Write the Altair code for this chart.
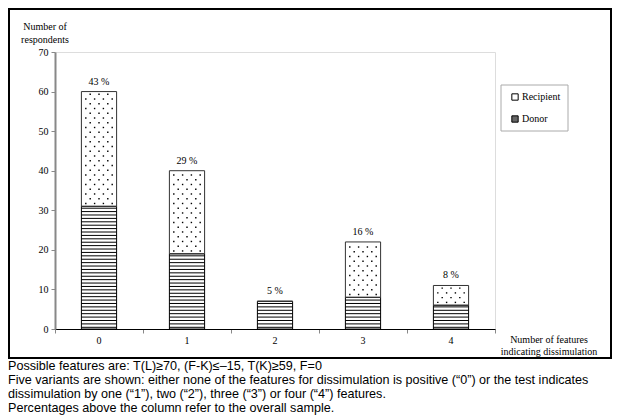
import altair as alt
import pandas as pd

categories = [0, 1, 2, 3, 4]
donor = [31, 19, 7, 8, 6]
recipient = [29, 21, 0, 14, 5]
percent = [43, 29, 5, 16, 8]
series_names = ["Recipient", "Donor"]
footnotes = [
    "Possible features are: T(L)\u226570, (F-K)\u2264\u201315, T(K)\u226559, F=0",
    "Five variants are shown: either none of the features for dissimulation is positive (\u201c0\u201d) or the test indicates",
    "dissimulation by one (\u201c1\u201d), two (\u201c2\u201d), three (\u201c3\u201d) or four (\u201c4\u201d) features.",
    "Percentages above the column refer to the overall sample.",
]

HALF = 0.2          # half bar width in category units
STRIPE = 0.86       # stripe spacing (value units)
DOTROW = 1.2        # dot row spacing (value units)
SERIF = "Liberation Serif"
SANS = "Liberation Sans"

bars = pd.DataFrame({
    "cat": categories,
    "donor": donor,
    "total": [d + r for d, r in zip(donor, recipient)],
    "label": [f"{p} %" for p in percent],
})
bars["x0"] = bars["cat"] - HALF
bars["x1"] = bars["cat"] + HALF

# stripe pattern rows for Donor segment
srows = []
for c, d in zip(categories, donor):
    v = STRIPE / 2
    while v < d:
        srows.append({"x0": c - HALF, "x1": c + HALF, "y": v})
        v += STRIPE
stripes = pd.DataFrame(srows)

# dotted pattern for Recipient segment
drows = []
for c, d, r in zip(categories, donor, recipient):
    v = d + DOTROW * 0.6
    k = 0
    while v < d + r - 0.4:
        offs = [-0.15, -0.05, 0.05, 0.15] if k % 2 == 0 else [-0.10, 0.0, 0.10]
        for o in offs:
            drows.append({"x": c + o, "y": v})
        v += DOTROW
        k += 1
dots = pd.DataFrame(drows)

xs = alt.Scale(domain=[-0.5, 4.5], nice=False, zero=False)
ys = alt.Scale(domain=[0, 70], nice=False)

xaxis = alt.Axis(values=[-0.5, 0.5, 1.5, 2.5, 3.5, 4.5], labels=False, tickSize=4,
                 tickColor="#888", domainColor="black", title=None, grid=False)
yaxis = alt.Axis(values=list(range(0, 71, 10)), tickSize=4, tickColor="#888",
                 domainColor="#888", domainWidth=2, labelFont=SERIF, labelFontSize=10,
                 labelColor="black", labelPadding=3, labelOverlap=False,
                 title=None, grid=False)


def X(f):
    return alt.X(f, scale=xs, axis=xaxis)


def Y(f):
    return alt.Y(f, scale=ys, axis=yaxis)


base = alt.Chart(bars)

white = base.mark_rect(fill="white").encode(
    x=X("x0:Q"), x2="x1:Q", y=Y("total:Q"), y2=alt.datum(0),
)

stripe_layer = alt.Chart(stripes).mark_rule(color="black", strokeWidth=1).encode(
    x=X("x0:Q"), x2="x1:Q", y=Y("y:Q")
)

dot_layer = alt.Chart(dots).mark_square(size=2, color="black", opacity=1).encode(
    x=X("x:Q"), y=Y("y:Q")
)

donor_outline = base.mark_rect(fillOpacity=0, stroke="black", strokeWidth=1).encode(
    x=X("x0:Q"), x2="x1:Q", y=Y("donor:Q"), y2=alt.datum(0)
)
total_outline = base.mark_rect(fillOpacity=0, stroke="#333", strokeWidth=1).encode(
    x=X("x0:Q"), x2="x1:Q", y=Y("total:Q"), y2="donor:Q"
)

pct = base.mark_text(font=SERIF, fontSize=10, dy=-10, color="black").encode(
    x=X("cat:Q"), y=Y("total:Q"), text="label:N"
)

xlabels = base.mark_text(font=SERIF, fontSize=10, color="black", baseline="middle").encode(
    x=X("cat:Q"), y=alt.value(289), text="cat:N"
)

one = pd.DataFrame({"a": [0]})

outer = alt.Chart(one).mark_rect(fillOpacity=0, stroke="black", strokeWidth=2).encode(
    x=alt.value(-46), x2=alt.value(556), y=alt.value(-43), y2=alt.value(306)
)

ytitle = alt.Chart(pd.DataFrame({"t": ["Number of", "respondents"], "yy": [-25, -12]})).mark_text(
    font=SERIF, fontSize=10, color="black", baseline="middle", align="center"
).encode(x=alt.value(-10), y=alt.Y("yy:Q", scale=None), text="t:N")

xtitle = alt.Chart(pd.DataFrame({"t": ["Number of features", "indicating dissimulation"], "yy": [288, 300]})).mark_text(
    font=SERIF, fontSize=10, color="black", baseline="middle", align="center"
).encode(x=alt.value(494), y=alt.Y("yy:Q", scale=None), text="t:N")

foot = alt.Chart(pd.DataFrame({"t": footnotes, "yy": [314, 328, 342, 356]})).mark_text(
    font=SANS, fontSize=12.6, color="black", baseline="middle", align="left"
).encode(x=alt.value(-47), y=alt.Y("yy:Q", scale=None), text="t:N")

legbox = alt.Chart(one).mark_rect(fillOpacity=0, stroke="#aaa", strokeWidth=1).encode(
    x=alt.value(446), x2=alt.value(513), y=alt.value(33), y2=alt.value(79)
)
legsym = alt.Chart(pd.DataFrame({"s": series_names, "yy": [45, 67], "f": ["white", "#666"]})).mark_point(
    shape="square", size=40, stroke="black", strokeWidth=1, filled=False, opacity=1
).encode(x=alt.value(460), y=alt.Y("yy:Q", scale=None), fill=alt.Fill("f:N", scale=None))
legtxt = alt.Chart(pd.DataFrame({"s": series_names, "yy": [45, 67]})).mark_text(
    font=SERIF, fontSize=10, color="black", baseline="middle", align="left"
).encode(x=alt.value(467), y=alt.Y("yy:Q", scale=None), text="s:N")

chart = alt.layer(
    white, stripe_layer, dot_layer, donor_outline, total_outline, pct, xlabels,
    outer, ytitle, xtitle, foot, legbox, legsym, legtxt
).properties(
    width=440, height=277,
    autosize=alt.AutoSizeParams(type="none"),
    padding={"left": 47, "top": 44, "right": 117, "bottom": 91},
).configure_view(stroke="black", strokeWidth=1).configure(background="white")

chart.save("out.html", embed_options={"renderer": "svg", "actions": False})
